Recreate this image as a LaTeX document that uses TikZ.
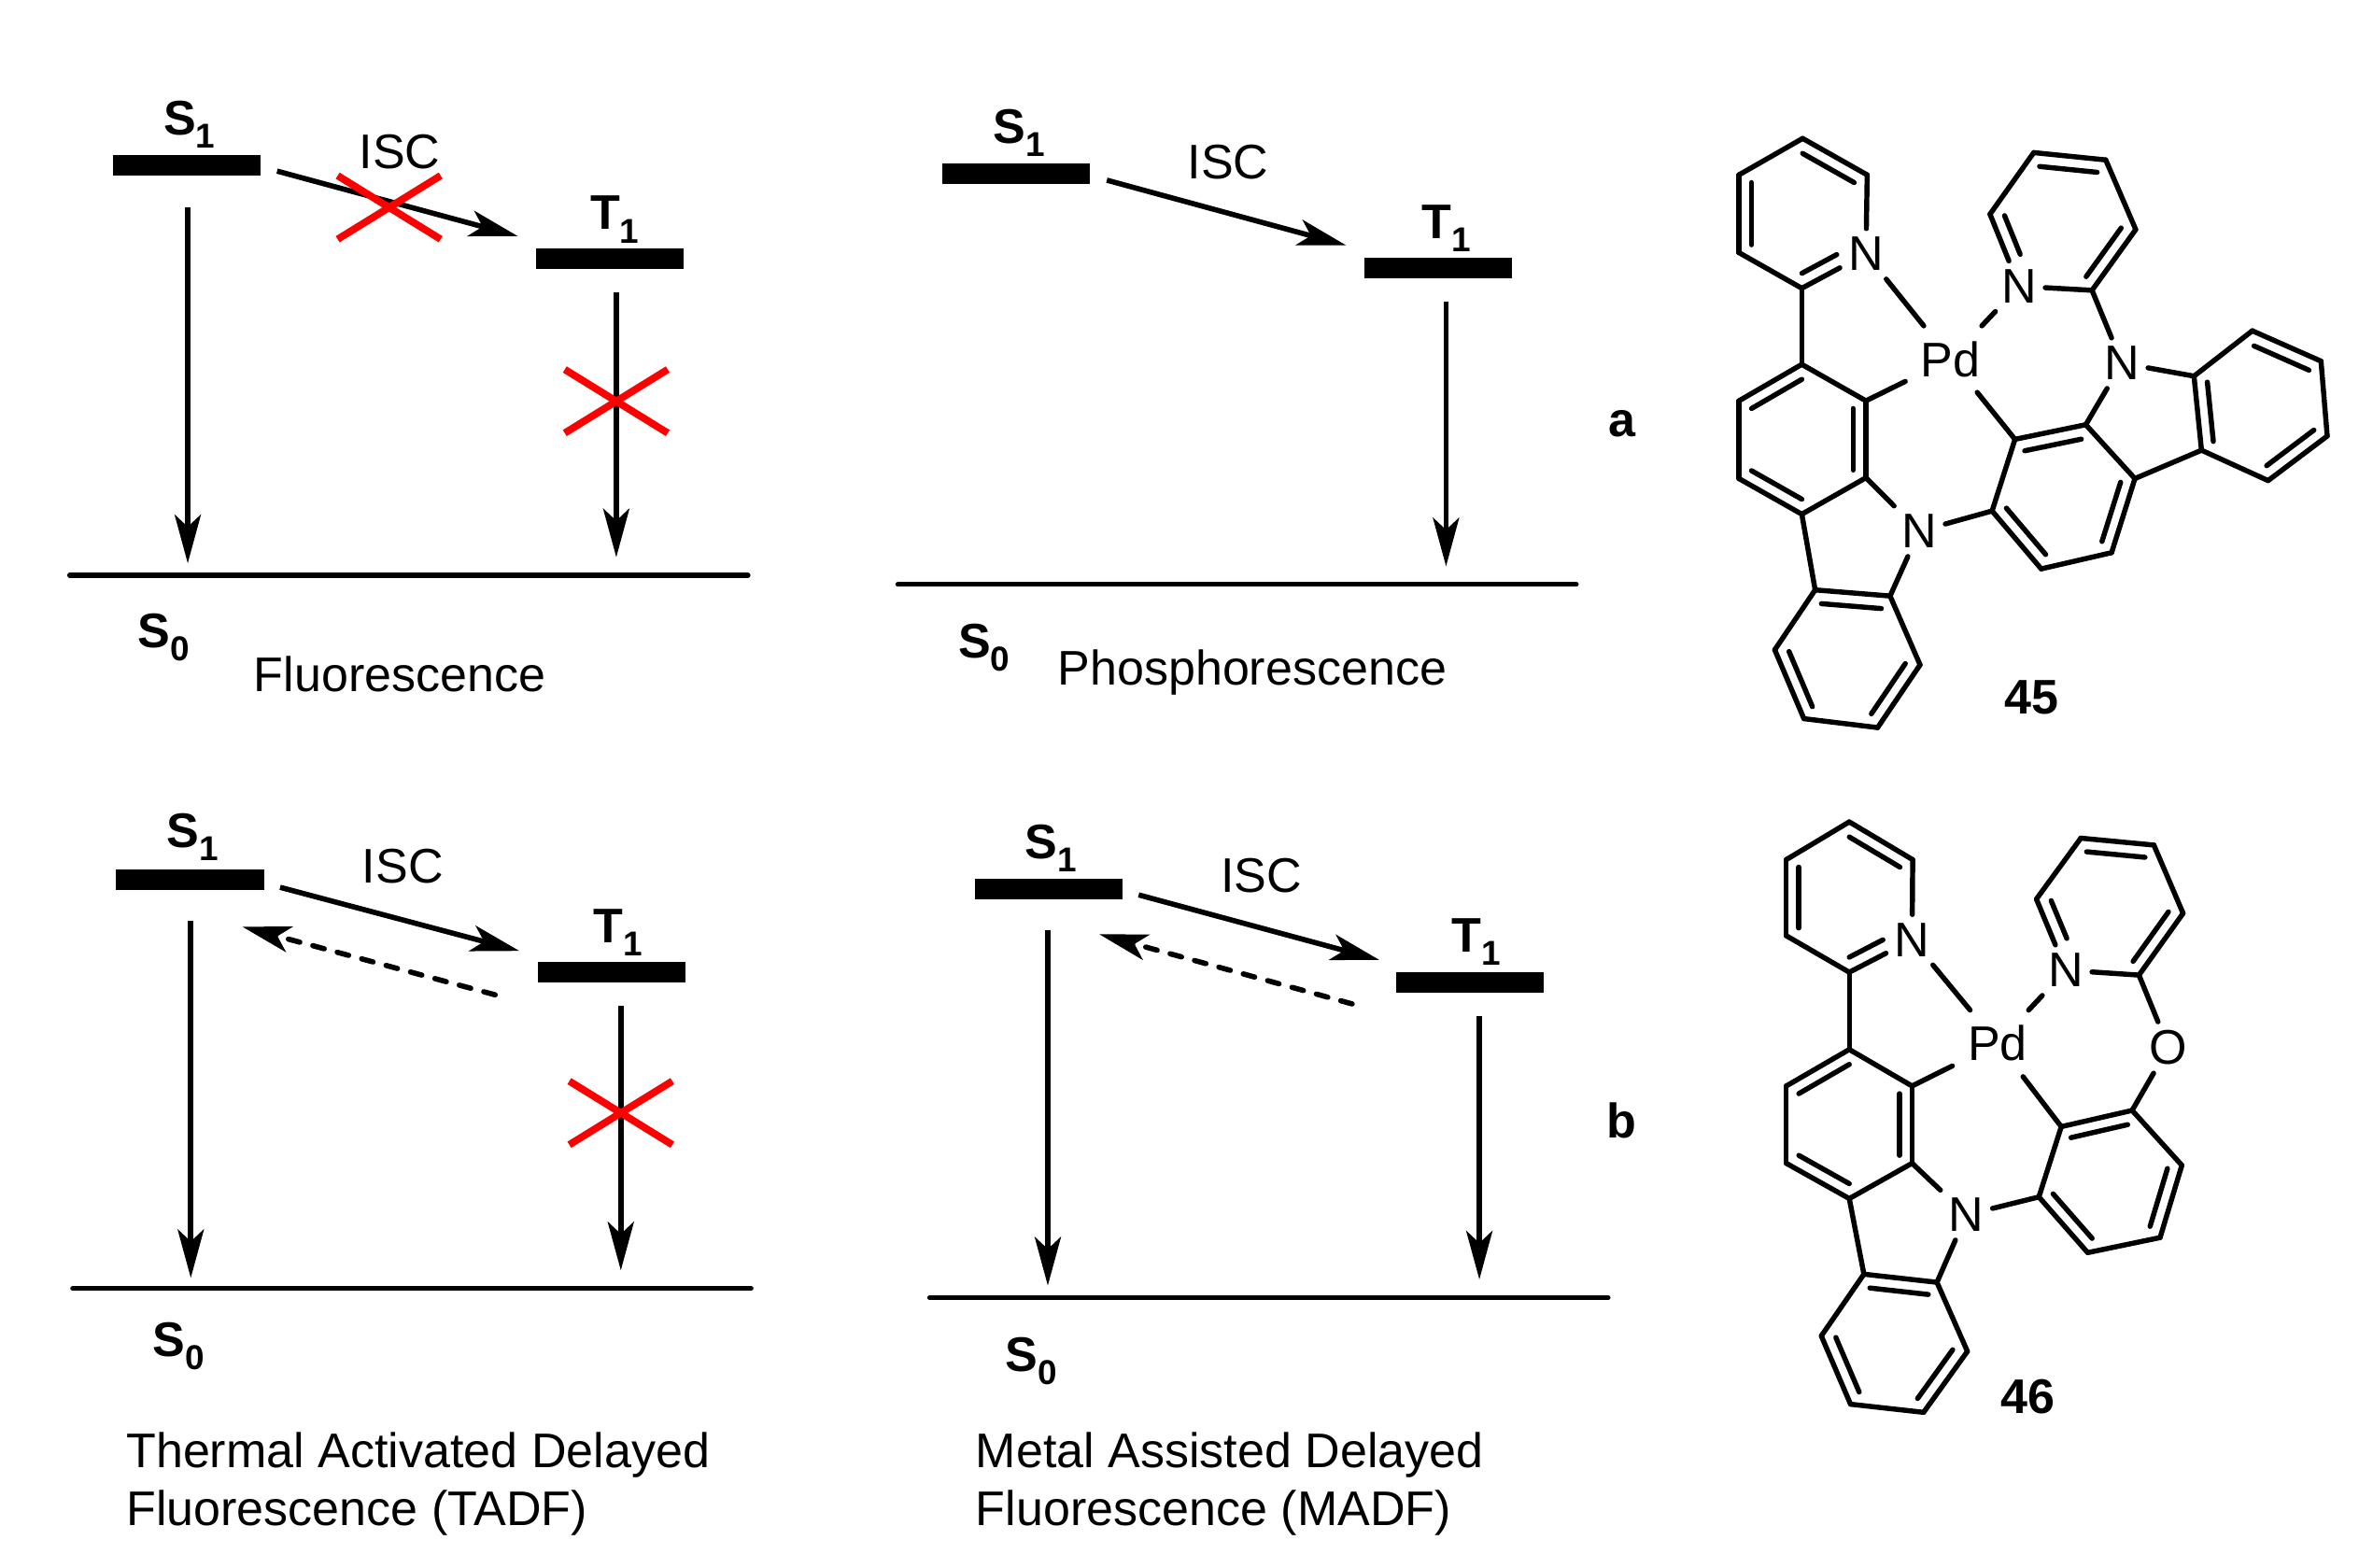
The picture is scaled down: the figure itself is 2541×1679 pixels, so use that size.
\documentclass[tikz,border=0pt]{standalone}
\usepackage{fontspec}
\setmainfont{Liberation Sans}
\usetikzlibrary{arrows.meta,calc}
\tikzset{
  txt/.style={font=\fontsize{14.8}{17.7}\selectfont,inner sep=0pt},
  lvl/.style={font=\fontsize{14.8}{17.4}\selectfont\bfseries,inner sep=0pt},
  atom/.style={font=\fontsize{14.8}{17.4}\selectfont,inner sep=2.4pt},
  metal/.style={atom,inner sep=4.5pt},
  lvlbar/.style={fill=black,draw=none,minimum width=1.58cm,minimum height=0.22cm,inner sep=0pt},
  ground/.style={line width=1.5pt,line cap=round},
  arr/.style={line width=1.6pt,-{Stealth[length=5.2mm,width=2.8mm,inset=1.3mm]}},
  backarr/.style={line width=1.6pt,line cap=round,dash pattern=on 3.6pt off 4.1pt,-{Stealth[length=5.2mm,width=2.8mm,inset=1.3mm]}},
  cross/.style={red,line width=2.2pt},
  bond/.style={line width=1.55pt,line cap=round,line join=round},
}
\newcommand{\lvltext}[2]{#1\raisebox{-0.27em}{\fontsize{10.5}{12}\selectfont #2}}
\newcommand{\redx}[1]{%
  \draw[cross] ($(#1)+(-34,-21)$) -- ($(#1)+(34,21)$);
  \draw[cross] ($(#1)+(-34,21)$) -- ($(#1)+(34,-21)$);}
% bonds shared by both complexes; \molp is the name prefix of the complex
\newcommand{\molp}{}
\newcommand{\molbonds}{%
  \coordinate (\molp AC) at ($(\molp A1)!.5!(\molp A4)$);
  \coordinate (\molp BC) at ($(\molp B1)!.5!(\molp B4)$);
  \coordinate (\molp CC) at ($(\molp C1)!.5!(\molp C4)$);
  \coordinate (\molp DC) at ($(\molp D2)!.5!(\molp D5)$);
  \coordinate (\molp EC) at ($(\molp E1)!.5!(\molp E4)$);
  \foreach \ba/\bb in {A1/A2,A2/N1,N1/A4,A4/A5,A5/A6,A6/A1,A4/B1,
      B1/B2,B2/B3,B3/B4,B4/B5,B5/B6,B6/B1,B2/Pd,B3/N2,N2/C2,B4/C1,
      C1/C2,C2/C3,C3/C4,C4/C5,C5/C6,C6/C1,
      N3/D2,D2/D3,D3/D4,D4/D5,D5/D6,D6/N3,Pd/N1,Pd/N3,Pd/E6,N2/E5,
      E1/E2,E2/E3,E3/E4,E4/E5,E5/E6,E6/E1}
    \draw[bond] (\molp\ba) -- (\molp\bb);
  \foreach \ba/\bb/\bc in {A1/A2/AC,A5/A6/AC,B2/B3/BC,B4/B5/BC,B6/B1/BC,
      C1/C2/CC,C3/C4/CC,C5/C6/CC,D3/D4/DC,D5/D6/DC,E6/E1/EC,E2/E3/EC,E4/E5/EC}
    \draw[bond] ($(\molp\ba)!.2!(\molp\bc)$) -- ($(\molp\bb)!.2!(\molp\bc)$);
  \draw[bond,shorten >=2mm] ($(\molp A4)!.2!(\molp AC)$) -- ($(\molp N1.center)!.2!(\molp AC)$);
  \draw[bond,shorten >=2.2mm] ($(\molp D2)!.2!(\molp DC)$) -- ($(\molp N3.center)!.2!(\molp DC)$);
}
\begin{document}
\begin{tikzpicture}[x=0.01cm,y=-0.01cm]
\useasboundingbox (0,0) rectangle (2541,1679);
\fill[white] (0,0) rectangle (2541,1679);

\begin{scope}[x=0.016205cm,y=-0.016205cm]
% ---------- panel 1: fluorescence
\node[lvlbar] (s1a) at (123.5,109) {};
\node[lvlbar] (t1a) at (402.5,171) {};
\node[lvl] (s1al) at (125,82) {\lvltext{S}{1}};
\node[lvl] (t1al) at (406,145) {\lvltext{T}{1}};
\coordinate (s0al) at (46,380); \coordinate (s0ar) at (494,380);
\draw[ground] (s0al) -- (s0ar);
\node[lvl] (s0a) at (108,421) {\lvltext{S}{0}};
\node[txt] (isca) at (264,100) {ISC};
\node[txt] (ta) at (264,445) {Fluorescence};
\coordinate (a1) at (124,137); \coordinate (a2) at (124,372);
\coordinate (a3) at (407,193); \coordinate (a4) at (407,368);
\coordinate (a5) at (183,113); \coordinate (a6) at (342,156);
\draw[arr] (a1) -- (a2);
\draw[arr] (a3) -- (a4);
\draw[arr] (a5) -- (a6);
\coordinate (xa1) at (257,137); \coordinate (xa2) at (407,265);
\redx{xa1}
\redx{xa2}

% ---------- panel 2: phosphorescence
\node[lvlbar] (s1b) at (671,115) {};
\node[lvlbar] (t1b) at (950,177) {};
\node[lvl] (s1bl) at (673,88) {\lvltext{S}{1}};
\node[lvl] (t1bl) at (955,151) {\lvltext{T}{1}};
\coordinate (s0bl) at (593,386); \coordinate (s0br) at (1041,386);
\draw[ground] (s0bl) -- (s0br);
\node[lvl] (s0b) at (650,428) {\lvltext{S}{0}};
\node[txt] (iscb) at (811,107) {ISC};
\node[txt] (tb) at (827,444) {Phosphorescence};
\coordinate (b3) at (955,199); \coordinate (b4) at (955,374);
\coordinate (b5) at (731,119); \coordinate (b6) at (889,162);
\draw[arr] (b3) -- (b4);
\draw[arr] (b5) -- (b6);

% ---------- panel 3: TADF
\node[lvlbar] (s1c) at (125.5,581) {};
\node[lvlbar] (t1c) at (404,642) {};
\node[lvl] (s1cl) at (127,553) {\lvltext{S}{1}};
\node[lvl] (t1cl) at (408,616) {\lvltext{T}{1}};
\coordinate (s0cl) at (48,851); \coordinate (s0cr) at (496,851);
\draw[ground] (s0cl) -- (s0cr);
\node[lvl] (s0c) at (118,889) {\lvltext{S}{0}};
\node[txt] (iscc) at (266,572) {ISC};
\node[txt,anchor=west,align=left] (tc) at (83,980) {Thermal Activated Delayed\\Fluorescence (TADF)};
\coordinate (c1) at (126,608); \coordinate (c2) at (126,844);
\coordinate (c3) at (410,664); \coordinate (c4) at (410,839);
\coordinate (c5) at (185,586); \coordinate (c6) at (343,628);
\coordinate (c7) at (327,657); \coordinate (c8) at (160,612);
\draw[arr] (c1) -- (c2);
\draw[arr] (c3) -- (c4);
\draw[arr] (c5) -- (c6);
\draw[backarr] (c7) -- (c8);
\coordinate (xc) at (410,735);
\redx{xc}

% ---------- panel 4: MADF
\node[lvlbar] (s1d) at (692.5,587) {};
\node[lvlbar] (t1d) at (971,649) {};
\node[lvl] (s1dl) at (694,560) {\lvltext{S}{1}};
\node[lvl] (t1dl) at (975,622) {\lvltext{T}{1}};
\coordinate (s0dl) at (614,857); \coordinate (s0dr) at (1062,857);
\draw[ground] (s0dl) -- (s0dr);
\node[lvl] (s0d) at (681,899) {\lvltext{S}{0}};
\node[txt] (iscd) at (833,578) {ISC};
\node[txt,anchor=west,align=left] (td) at (644,980) {Metal Assisted Delayed\\Fluorescence (MADF)};
\coordinate (d1) at (692,614); \coordinate (d2) at (692,849);
\coordinate (d3) at (977,671); \coordinate (d4) at (977,845);
\coordinate (d5) at (752,591); \coordinate (d6) at (911,634);
\coordinate (d7) at (893,663); \coordinate (d8) at (726,617);
\draw[arr] (d1) -- (d2);
\draw[arr] (d3) -- (d4);
\draw[arr] (d5) -- (d6);
\draw[backarr] (d7) -- (d8);

\node[lvl] (la) at (1071,280) {a};
\node[lvl] (lb) at (1071,740) {b};
\end{scope}

% ---------- complex 45
\begin{scope}[x=0.004454cm,y=-0.004329cm,shift={(18.20cm,-1.20cm)}]
\renewcommand{\molp}{p}
\coordinate (pA1) at (245,65);  \coordinate (pA2) at (400,155);
\node[atom] (pN1) at (397,350) {N};
\coordinate (pA4) at (243,435); \coordinate (pA5) at (92,347); \coordinate (pA6) at (92,155);
\coordinate (pB1) at (243,623); \coordinate (pB2) at (397,713); \coordinate (pB3) at (397,903);
\coordinate (pB4) at (243,993); \coordinate (pB5) at (92,905);  \coordinate (pB6) at (92,713);
\node[metal] (pPd) at (600,610) {Pd};
\node[atom] (pN2) at (525,1035) {N};
\coordinate (pC1) at (275,1180); \coordinate (pC2) at (455,1195); \coordinate (pC3) at (527,1365);
\coordinate (pC4) at (425,1520); \coordinate (pC5) at (248,1498); \coordinate (pC6) at (178,1328);
\node[atom] (pN3) at (765,430) {N};
\coordinate (pD2) at (695,252); \coordinate (pD3) at (800,100); \coordinate (pD4) at (973,118);
\coordinate (pD5) at (1045,290); \coordinate (pD6) at (940,440);
\node[atom] (pN4) at (1012,620) {N};
\coordinate (pE1) at (925,772); \coordinate (pE2) at (1043,905); \coordinate (pE3) at (987,1088);
\coordinate (pE4) at (818,1128); \coordinate (pE5) at (700,985); \coordinate (pE6) at (755,808);
\coordinate (pF1) at (1185,652); \coordinate (pF2) at (1203,835); \coordinate (pF3) at (1363,910);
\coordinate (pF4) at (1505,800); \coordinate (pF5) at (1490,615); \coordinate (pF6) at (1325,540);
\coordinate (pFC) at ($(pF1)!.5!(pF4)$);
\molbonds
\foreach \ba/\bb in {D6/N4,N4/E1,N4/F1,E2/F2,F1/F2,F2/F3,F3/F4,F4/F5,F5/F6,F6/F1}
  \draw[bond] (p\ba) -- (p\bb);
\foreach \ba/\bb in {F1/F2,F3/F4,F5/F6}
  \draw[bond] ($(p\ba)!.2!(pFC)$) -- ($(p\bb)!.2!(pFC)$);
\node[lvl] (n45) at (795,1445) {45};
\end{scope}

% ---------- complex 46
\begin{scope}[x=0.003333cm,y=-0.004348cm,shift={(18.60cm,-8.60cm)}]
\renewcommand{\molp}{q}
\coordinate (qA1) at (358,45);  \coordinate (qA2) at (562,138);
\node[atom] (qN1) at (560,335) {N};
\coordinate (qA4) at (358,415); \coordinate (qA5) at (155,325); \coordinate (qA6) at (155,138);
\coordinate (qB1) at (358,605); \coordinate (qB2) at (560,695); \coordinate (qB3) at (560,885);
\coordinate (qB4) at (358,972); \coordinate (qB5) at (155,885); \coordinate (qB6) at (155,695);
\node[metal] (qPd) at (835,590) {Pd};
\node[atom] (qN2) at (735,1012) {N};
\coordinate (qC1) at (405,1158); \coordinate (qC2) at (640,1178); \coordinate (qC3) at (738,1348);
\coordinate (qC4) at (597,1498); \coordinate (qC5) at (362,1478); \coordinate (qC6) at (268,1310);
\node[atom] (qN3) at (1055,410) {N};
\coordinate (qD2) at (960,235); \coordinate (qD3) at (1103,85); \coordinate (qD4) at (1338,102);
\coordinate (qD5) at (1432,270); \coordinate (qD6) at (1290,422);
\node[atom] (qO) at (1385,600) {O};
\coordinate (qE1) at (1268,755); \coordinate (qE2) at (1428,890); \coordinate (qE3) at (1358,1068);
\coordinate (qE4) at (1125,1105); \coordinate (qE5) at (968,968); \coordinate (qE6) at (1040,795);
\molbonds
\foreach \ba/\bb in {D6/O,O/E1}
  \draw[bond] (q\ba) -- (q\bb);
\node[lvl] (n46) at (934,1460) {46};
\end{scope}
\end{tikzpicture}
\end{document}
